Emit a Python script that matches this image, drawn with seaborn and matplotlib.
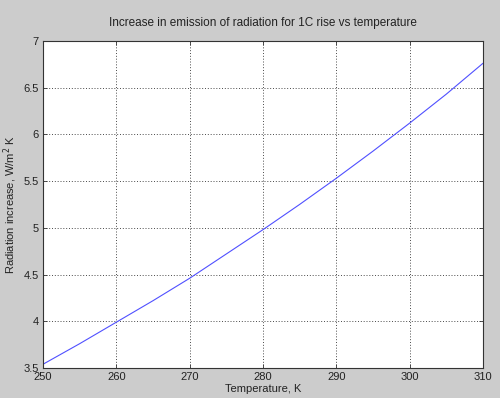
#!/usr/bin/env python3

import numpy as np
import pandas as pd
import matplotlib
matplotlib.use("Agg")
import matplotlib.pyplot as plt
import seaborn as sns

# values
temperature = [250, 255, 260, 265, 270, 275, 280, 285, 290, 295, 300, 305, 310]
radiation_increase = [3.54, 3.76, 3.99, 4.22, 4.46, 4.72, 4.98, 5.25, 5.53, 5.82, 6.12, 6.43, 6.76]

x_ticks = [250, 260, 270, 280, 290, 300, 310]
y_ticks = [3.5, 4, 4.5, 5, 5.5, 6, 6.5, 7]
y_tick_labels = ["3.5", "4", "4.5", "5", "5.5", "6", "6.5", "7"]

df = pd.DataFrame({"T": temperature, "R": radiation_increase})

sns.set_style("white")
plt.rcParams["font.family"] = ["Liberation Sans", "DejaVu Sans"]

fig = plt.figure(figsize=(5.0, 3.98), dpi=100, facecolor="#cccccc")
ax = fig.add_axes([0.086, 0.0754, 0.880, 0.822])
ax.set_facecolor("white")

sns.lineplot(data=df, x="T", y="R", ax=ax, color="#5050ff", linewidth=0.8)

ax.set_xlim(250, 310)
ax.set_ylim(3.5, 7)
ax.set_xticks(x_ticks)
ax.set_yticks(y_ticks)
ax.set_yticklabels(y_tick_labels)
ax.grid(True, color="#333333", linestyle=(0, (1.2, 2.2)), linewidth=0.6)

for s in ax.spines.values():
    s.set_color("#333333")
    s.set_linewidth(0.8)
ax.tick_params(direction="in", length=3, width=0.6, labelsize=8,
               colors="#333333", labelcolor="#222222",
               top=True, right=True, bottom=True, left=True, pad=3)

ax.set_title("Increase in emission of radiation for 1C rise vs temperature",
             fontsize=8.5, color="#222222", pad=11)
ax.set_xlabel("Temperature, K", fontsize=8, color="#222222", labelpad=1)
ax.set_ylabel("Radiation increase, W/m$^2$ K", fontsize=8, color="#222222", labelpad=3)

fig.savefig("out.png", dpi=100, facecolor=fig.get_facecolor())
